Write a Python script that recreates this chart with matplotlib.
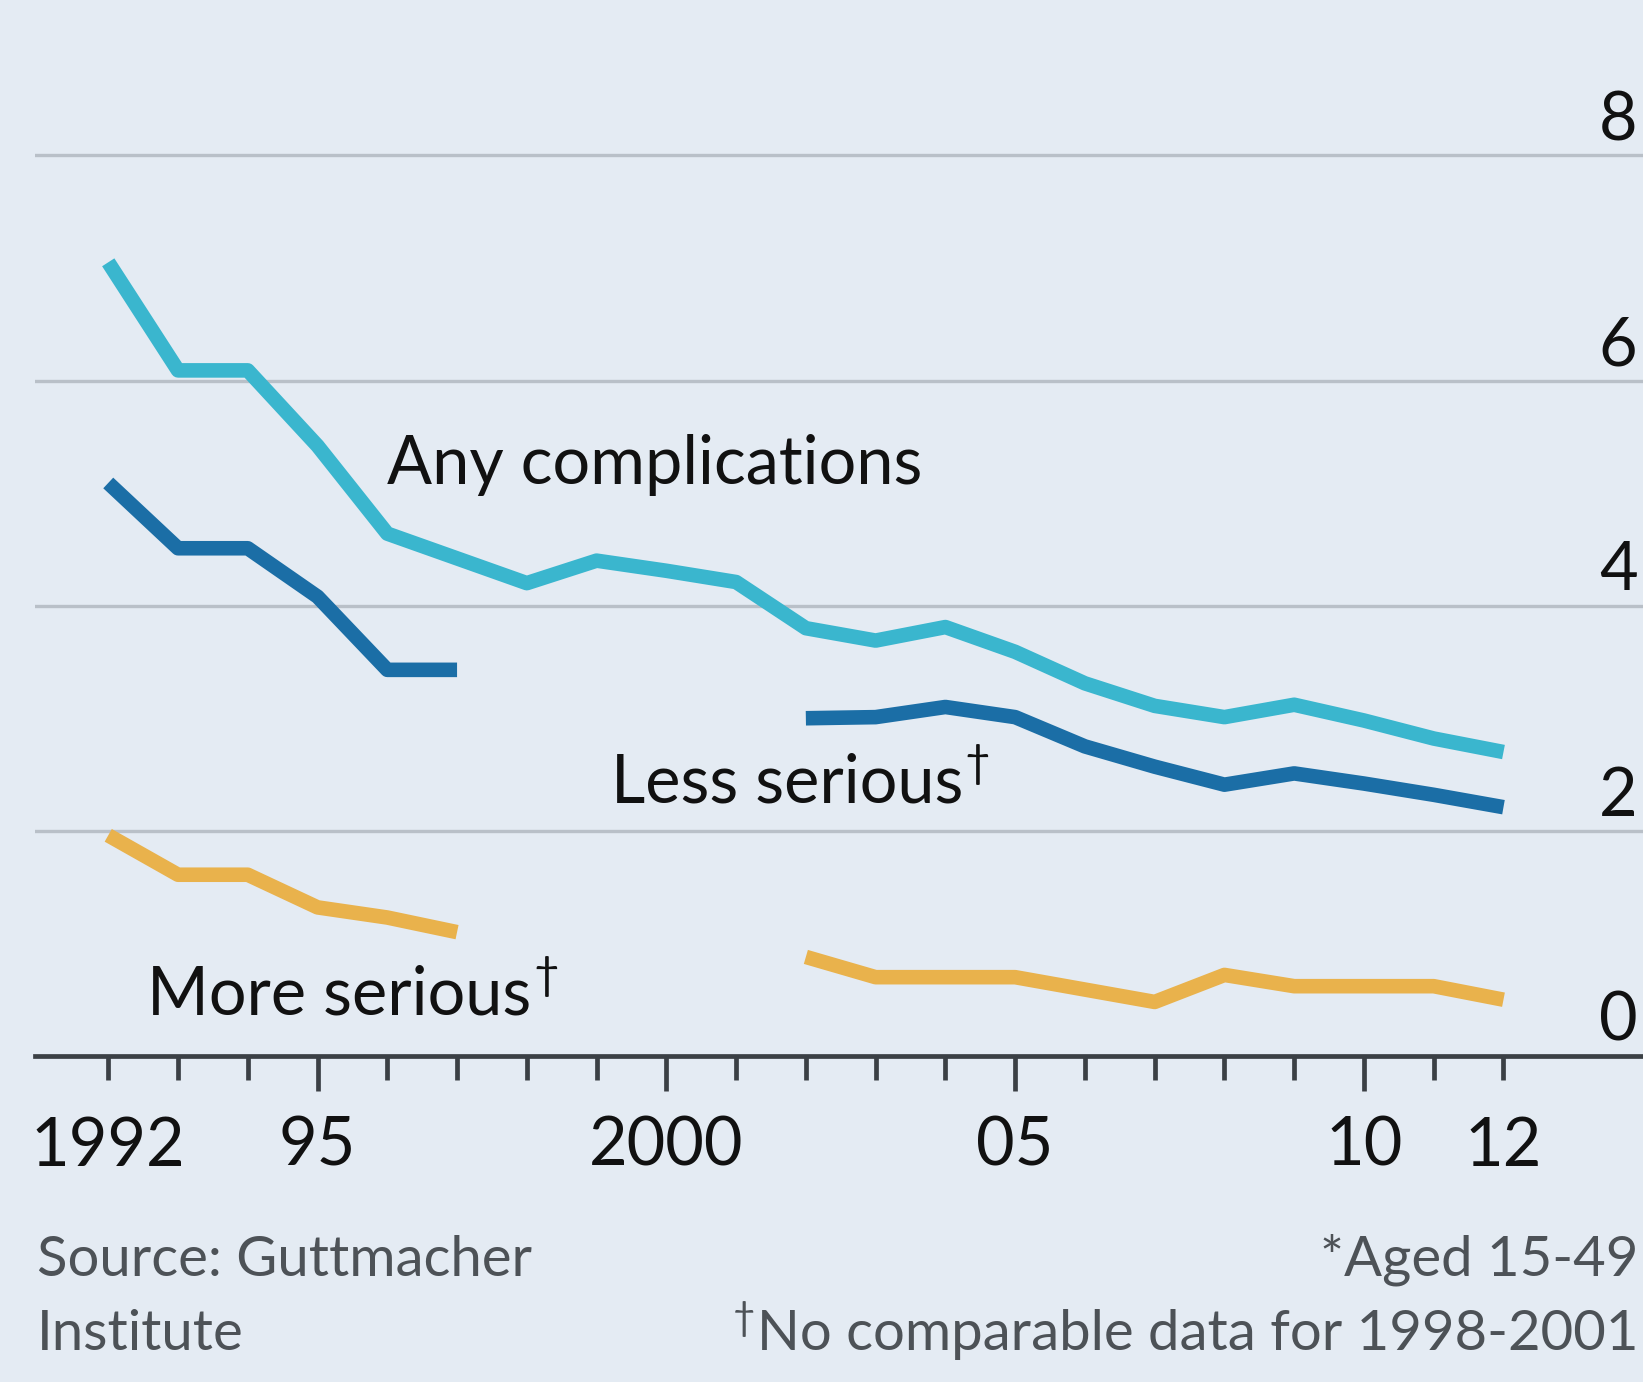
import numpy as np
import matplotlib
matplotlib.use("Agg")
import matplotlib.pyplot as plt

# ── Style ──────────────────────────────────────────────
BG = "#e4ebf3"
GRID = "#b9c0c8"
AXIS = "#3b4045"
TEXT = "#111111"
FOOT = "#4d5257"
CYAN = "#3ab6ce"
NAVY = "#1b6ea6"
GOLD = "#e9b24c"
FONT = ["Lato", "DejaVu Sans"]

plt.rcParams.update({
    "font.family": FONT,
    "figure.facecolor": BG,
    "axes.facecolor": BG,
})

# ── Data ───────────────────────────────────────────────
years = list(range(1992, 2013))
any_complications = [7.05, 6.09, 6.09, 5.42, 4.64, 4.42, 4.20, 4.40, 4.31, 4.21,
                     3.80, 3.69, 3.81, 3.59, 3.31, 3.11, 3.01, 3.12, 2.98, 2.82, 2.70]
less_serious = [5.09, 4.51, 4.51, 4.08, 3.43, 3.43, None, None, None, None,
                3.00, 3.01, 3.10, 3.01, 2.75, 2.57, 2.41, 2.51, 2.42, 2.32, 2.21]
more_serious = [1.96, 1.61, 1.61, 1.32, 1.23, 1.10, None, None, None, None,
                0.88, 0.70, 0.70, 0.70, 0.59, 0.48, 0.72, 0.62, 0.62, 0.62, 0.50]

y_ticks = [0, 2, 4, 6, 8]
major_years = [1995, 2000, 2005, 2010]
major_labels = ["95", "2000", "05", "10"]
edge_labels = {1992: "1992", 2012: "12"}


def as_array(vals):
    return np.array([np.nan if v is None else v for v in vals], dtype=float)


fig = plt.figure(figsize=(16.43, 13.82), dpi=100)
ax = fig.add_axes([0.0213, 0.2359, 0.9787, 0.7641])
ax.set_xlim(1990.95, 2014.0)
ax.set_ylim(0, 9.38)

# gridlines with right-hand labels sitting on top of them
for yt in y_ticks:
    if yt:
        ax.axhline(yt, color=GRID, lw=2.4, zorder=1)
    ax.annotate(str(yt), xy=(1, yt), xycoords=("axes fraction", "data"),
                xytext=(-4, 11), textcoords="offset points",
                ha="right", va="baseline", fontsize=48, color=TEXT)

line_kw = dict(lw=10.5, solid_capstyle="butt", solid_joinstyle="round", zorder=3)
ax.plot(years, as_array(any_complications), color=CYAN, **line_kw)
ax.plot(years, as_array(less_serious), color=NAVY, **line_kw)
ax.plot(years, as_array(more_serious), color=GOLD, **line_kw)

# series labels
ax.text(1996.0, 5.08, "Any complications", fontsize=48, color=TEXT, va="baseline")
t_less = ax.text(1999.2, 2.25, "Less serious", fontsize=48, color=TEXT, va="baseline")
t_more = ax.text(1992.56, 0.37, "More serious", fontsize=48, color=TEXT, va="baseline")
for t in (t_less, t_more):
    ax.annotate("†", xy=(1, 1), xycoords=t, xytext=(1, 6), textcoords="offset points",
                ha="left", va="top", fontsize=32, color=TEXT)

# axes
for side in ("top", "left", "right"):
    ax.spines[side].set_visible(False)
ax.spines["bottom"].set_color(AXIS)
ax.spines["bottom"].set_linewidth(3.4)
ax.spines["bottom"].set_zorder(4)
ax.set_yticks([])

minor_years = [y for y in years if y not in major_years]
ax.set_xticks(major_years, labels=major_labels)
ax.set_xticks(minor_years, labels=[edge_labels.get(y, "") for y in minor_years], minor=True)
ax.tick_params(axis="x", which="major", direction="out", length=25, width=3.4,
               color=AXIS, pad=18, labelsize=48, labelcolor=TEXT)
ax.tick_params(axis="x", which="minor", direction="out", length=17, width=3.4,
               color=AXIS, pad=26, labelsize=48, labelcolor=TEXT)

# footer
FOOT_SIZE = 40.5
row1 = 1 - 1276 / 1382
row2 = 1 - 1350 / 1382
fig.text(0.0225, row1, "Source: Guttmacher", fontsize=FOOT_SIZE, color=FOOT,
         va="baseline", ha="left")
fig.text(0.0225, row2, "Institute", fontsize=FOOT_SIZE, color=FOOT,
         va="baseline", ha="left")
fig.text(0.997, row1, "*Aged 15-49", fontsize=FOOT_SIZE, color=FOOT,
         va="baseline", ha="right")
note = fig.text(0.997, row2, "No comparable data for 1998-2001", fontsize=FOOT_SIZE,
                color=FOOT, va="baseline", ha="right")
ax.annotate("†", xy=(0, 1), xycoords=note, xytext=(-1, 6), textcoords="offset points",
            ha="right", va="top", fontsize=28, color=FOOT, annotation_clip=False)

fig.savefig("out.png", dpi=100, facecolor=BG)
